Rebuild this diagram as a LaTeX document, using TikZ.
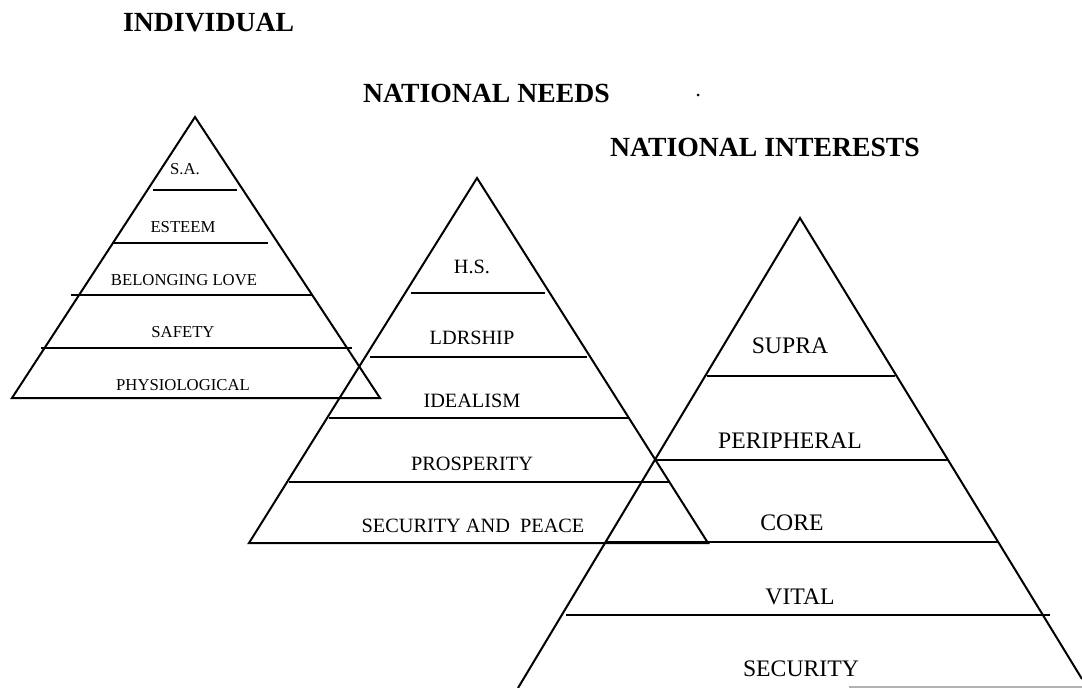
\documentclass[tikz,border=0pt]{standalone}
\usepackage{fontspec}
\setmainfont{Liberation Serif}
\begin{document}
\begin{tikzpicture}[x=1pt,y=-1pt,
  edge/.style={line width=2pt, line join=miter, line cap=butt},
  tier/.style={line width=2pt, line cap=butt},
  title/.style={font=\fontsize{27.7}{32}\selectfont\bfseries, inner sep=0pt, anchor=west},
  la/.style={font=\fontsize{16.7}{20}\selectfont, inner sep=0pt},
  lb/.style={font=\fontsize{20.3}{24}\selectfont, inner sep=0pt},
  lc/.style={font=\fontsize{23.7}{28}\selectfont, inner sep=0pt}]
\useasboundingbox (0,0) rectangle (1082,688);
\fill[white] (0,0) rectangle (1082,688);

% titles
\node[title] (tInd) at (123,23) {INDIVIDUAL};
\node[title] (tNeeds) at (363,93) {NATIONAL NEEDS};
\node[title] (tInt) at (610,147) {NATIONAL INTERESTS};
\fill (698,95) circle (1.5);

% triangle 1 (individual)
\coordinate (a1) at (195,117);
\coordinate (b1) at (12,398);
\coordinate (c1) at (380,398);
\draw[edge] (b1) -- (a1) -- (c1) -- cycle;
\draw[tier] (153,190) -- (237,190);
\draw[tier] (113,243) -- (268,243);
\draw[tier] (71,295) -- (312,295);
\draw[tier] (41,348) -- (352,348);
\node[la] (sa) at (185,169) {S.A.};
\node[la] (est) at (183,227) {ESTEEM};
\node[la] (bel) at (184,280) {BELONGING LOVE};
\node[la] (saf) at (183,332) {SAFETY};
\node[la] (phy) at (183,385) {PHYSIOLOGICAL};

% triangle 2 (national needs)
\coordinate (a2) at (477,178);
\coordinate (b2) at (249,543);
\coordinate (c2) at (708,543);
\draw[edge] (b2) -- (a2) -- (c2) -- cycle;
\draw[tier] (411,293) -- (545,293);
\draw[tier] (370,357) -- (587,357);
\draw[tier] (329,418) -- (628,418);
\draw[tier] (289,482) -- (669,482);
\node[lb] (hs) at (472,267) {H.S.};
\node[lb] (ldr) at (472,338) {LDRSHIP};
\node[lb] (ide) at (472,401) {IDEALISM};
\node[lb] (pro) at (472,464) {PROSPERITY};
\node[lb] (sap) at (473,526) {SECURITY AND\ \ PEACE};

% triangle 3 (national interests)
\coordinate (a3) at (800,218);
\coordinate (b3) at (518,688);
\coordinate (c3) at (1082,679);
\draw[edge] (b3) -- (a3) -- (c3);
\draw[tier] (707,376) -- (895,376);
\draw[tier] (656,460) -- (948,460);
\draw[tier] (605,542) -- (999,542);
\draw[tier] (566,615) -- (1050,615);
\node[lc] (sup) at (790,346) {SUPRA};
\node[lc] (per) at (790,441) {PERIPHERAL};
\node[lc] (cor) at (792,523) {CORE};
\node[lc] (vit) at (800,597) {VITAL};
\node[lc] (sec) at (801,669) {SECURITY};

% scan edge
\draw[gray!60, line width=1.5pt] (849,687) -- (1082,687);
\end{tikzpicture}
\end{document}
